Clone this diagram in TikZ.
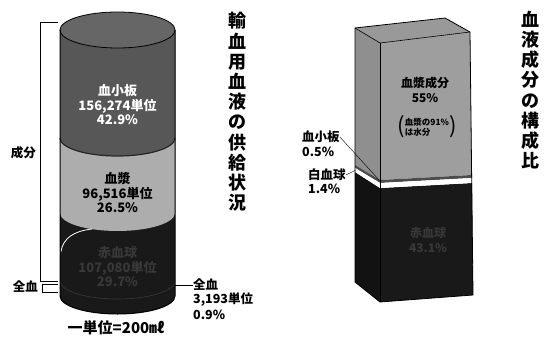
\documentclass[tikz,border=0pt]{standalone}
\usepackage{fontspec}
\setmainfont{Noto Sans CJK JP}
\definecolor{platecol}{gray}{0.34}
\definecolor{platetop}{gray}{0.40}
\definecolor{plasmacol}{gray}{0.68}
\definecolor{plasmabox}{gray}{0.62}
\definecolor{plasmaside}{gray}{0.56}
\definecolor{plasmatop}{gray}{0.60}
\definecolor{redcol}{gray}{0.10}
\definecolor{redside}{gray}{0.07}
\definecolor{redtext}{gray}{0.22}
\tikzset{
  lbl/.style={font=\bfseries\fontsize{12.5}{15}\selectfont, inner sep=0pt},
  seg/.style={font=\bfseries\fontsize{13}{14.5}\selectfont, align=center, inner sep=0pt},
  ttl/.style={font=\bfseries\fontsize{18}{20.2}\selectfont, align=center, inner sep=0pt},
  box/.style={font=\bfseries\fontsize{12}{15}\selectfont, align=center, inner sep=0pt},
}

\begin{document}
\begin{tikzpicture}[x=1pt,y=-1pt]
\useasboundingbox (0,0) rectangle (551,342);

%Cilindro
\fill[redcol] (60,30) -- (60,296) arc[start angle=180,end angle=0,x radius=57.5,y radius=18] -- (175,30) -- cycle;
\fill[plasmacol] (60,30) -- (60,213) arc[start angle=180,end angle=0,x radius=57.5,y radius=18] -- (175,30) -- cycle;
\fill[platecol] (60,30) -- (60,138) arc[start angle=180,end angle=0,x radius=57.5,y radius=18] -- (175,30) -- cycle;
\draw[black!85, line width=1.2pt] (60,138) arc[start angle=180,end angle=0,x radius=57.5,y radius=18];
\draw[gray!45!black, line width=0.6pt] (60,281) arc[start angle=180,end angle=0,x radius=57.5,y radius=18];
\draw[white, line width=0.8pt] (60.8,252) .. controls (63,238) and (74,231) .. (92,229);
\draw[fill=platetop, line width=0.8pt] (117.5,30) ellipse[x radius=57.5, y radius=18];
\draw[line width=1pt] (60,30) -- (60,296) arc[start angle=180,end angle=0,x radius=57.5,y radius=18] -- (175,30);

\node[seg, white] (plt) at (117.5,105) {血小板\\156,274単位\\42.9\%};
\node[seg] (plasma) at (117.5,193) {血漿\\96,516単位\\26.5\%};
\node[seg, redtext] (rbc) at (117.5,267) {赤血球\\107,080単位\\29.7\%};

%Llaves
\draw (58,22) -- (40,22) -- (40,281) -- (58,281);
\draw (58,284) -- (42,284) -- (42,292) -- (58,292);
\node[lbl, anchor=east] (comp) at (36,153) {成分};
\node[lbl, anchor=east] (whole) at (38,287) {全血};

\coordinate (wbend) at (175,285);
\node[lbl, anchor=west] (wbname) at (193,285) {全血};
\node[lbl, anchor=west] (wbunit) at (193,300) {3,193単位};
\node[lbl, anchor=west] (wbpct) at (193,315) {0.9\%};
\draw (wbend) -- (wbname.west);

\node[font=\bfseries\fontsize{15}{15}\selectfont, inner sep=0pt] (unit) at (116,328) {一単位=200㎖};

\node[ttl] (title1) at (237,112) {輸\\血\\用\\血\\液\\の\\供\\給\\状\\況};

%Prisma
\fill[redcol] (380,188) -- (380,302) -- (473,295) -- (472,183) -- cycle;
\fill[redside] (355,172) -- (355,282) -- (380,302) -- (380,188) -- cycle;
\fill[plasmabox] (380,43) -- (470,32) -- (472,175) -- (380,180) -- cycle;
\fill[plasmaside] (355,28) -- (380,43) -- (380,180) -- (355,165) -- cycle;
\fill[plasmatop] (355,28) -- (445,18) -- (470,32) -- (380,43) -- cycle;
\fill[black!70] (355,165) -- (380,180) -- (472,175) -- (472,178) -- (380,183) -- (355,168) -- cycle;
\fill[white] (355,168) -- (380,183) -- (472,178) -- (472,183) -- (380,188) -- (355,172) -- cycle;
\draw[line width=0.8pt] (355,28) -- (445,18) -- (470,32) -- (473,295) -- (380,302) -- (355,282) -- cycle;
\draw[line width=0.6pt] (355,28) -- (380,43) -- (470,32);
\draw[line width=0.6pt] (380,43) -- (380,302);

\node[box] (serum) at (425,90) {血漿成分\\55\%};
\node[font=\bfseries\fontsize{8.5}{10}\selectfont, align=left, inner sep=0pt] (water) at (427,127) {血漿の91\%\\は水分};
\node[font=\fontsize{22}{22}\selectfont, inner sep=0pt, anchor=east] (lpar) at (water.west) {(};
\node[font=\fontsize{22}{22}\selectfont, inner sep=0pt, anchor=west] (rpar) at (water.east) {)};
\node[box, redtext] (cells) at (428,240) {赤血球\\43.1\%};

\coordinate (pltend) at (380,181);
\coordinate (wbcend) at (356,170);
\node[lbl, anchor=west] (pltname) at (302,137) {血小板};
\node[lbl, anchor=west] (pltpct) at (302,152) {0.5\%};
\node[lbl, anchor=west] (wbcname) at (308,175) {白血球};
\node[lbl, anchor=west] (wbcpct) at (308,189) {1.4\%};
\draw (pltname.east) -- (pltend);
\draw (wbcname.east) -- (wbcend);

\node[ttl] (title2) at (530,90) {血\\液\\成\\分\\の\\構\\成\\比};
\end{tikzpicture}
\end{document}
